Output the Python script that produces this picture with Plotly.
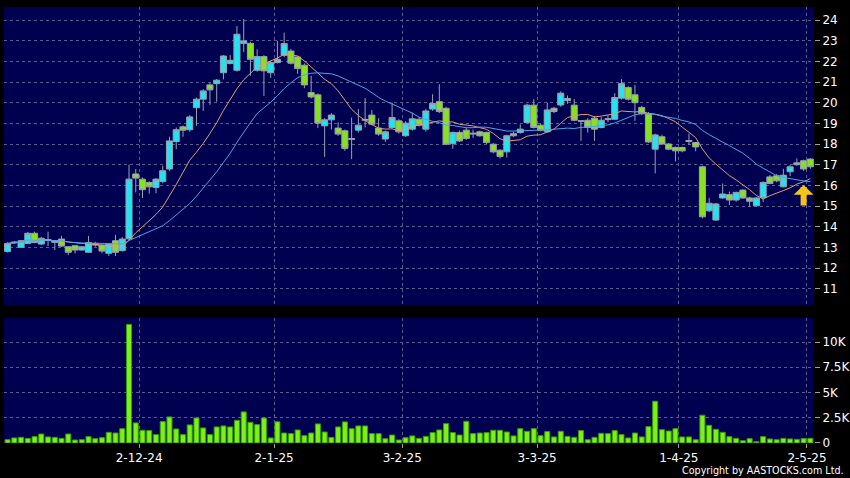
import plotly.graph_objects as go
import pandas as pd

# ---- data ----
tick_index = [20, 40, 59, 79, 100, 119]
tick_labels = ["2-12-24", "2-1-25", "3-2-25", "3-3-25", "1-4-25", "2-5-25"]

price_ticks = list(range(11, 25))
volume_ticks = [0, 2500, 5000, 7500, 10000]
volume_tick_labels = ["0", "2.5K", "5K", "7.5K", "10K"]

open_ = [12.80, 13.22, 13.00, 13.19, 13.68, 13.16, 13.38, 13.24, 13.40, 13.03,
         13.08, 12.87, 12.76, 13.19, 13.11, 12.71, 13.32, 12.84, 13.41, 16.55,
         16.30, 16.14, 15.90, 16.19, 16.79, 18.12, 18.83, 18.69, 19.76, 20.17,
         20.86, 20.92, 21.45, 21.90, 21.57, 22.87, 22.87, 21.57, 22.23, 21.45,
         21.94, 22.29, 22.50, 22.21, 21.81, 20.49, 20.38, 18.88, 19.17, 18.77,
         18.64, 18.22, 18.67, 19.15, 19.40, 18.77, 18.24, 18.80, 19.12, 18.40,
         18.72, 19.20, 18.72, 19.69, 20.05, 19.73, 18.02, 18.56, 18.67, 18.48,
         18.59, 18.56, 17.99, 17.70, 17.62, 18.40, 18.56, 19.04, 19.88, 18.91,
         18.59, 19.73, 19.89, 20.10, 19.88, 19.10, 19.15, 19.25, 18.80, 19.18,
         19.20, 20.22, 20.73, 20.38, 19.77, 19.47, 17.75, 18.35, 18.00, 17.83,
         17.83, 18.12, 18.07, 16.90, 14.77, 14.32, 15.39, 15.55, 15.29, 15.77,
         15.39, 15.01, 15.42, 16.41, 16.46, 15.93, 16.66, 17.00, 17.19, 17.27]
high = [13.25, 13.30, 13.36, 13.75, 13.76, 13.50, 13.76, 13.35, 13.56, 13.06,
        13.10, 13.06, 13.55, 13.27, 13.14, 13.18, 13.60, 13.50, 17.00, 16.79,
        16.38, 16.20, 16.35, 16.95, 18.35, 18.80, 18.90, 19.40, 20.25, 20.65,
        20.95, 21.15, 22.30, 22.30, 23.71, 24.05, 22.95, 22.58, 22.30, 22.00,
        22.99, 23.39, 22.60, 22.25, 21.90, 21.30, 20.45, 19.25, 19.50, 19.05,
        18.70, 19.28, 19.69, 20.23, 19.64, 19.25, 18.65, 20.00, 19.20, 19.10,
        19.52, 19.30, 19.70, 20.41, 20.89, 19.80, 18.60, 18.65, 18.80, 18.70,
        18.65, 18.60, 18.05, 17.75, 18.45, 18.60, 18.95, 19.95, 20.17, 18.98,
        20.00, 19.80, 20.55, 20.35, 20.17, 19.15, 19.25, 19.35, 19.30, 19.40,
        20.46, 21.14, 20.80, 20.86, 19.85, 19.55, 18.50, 18.45, 18.05, 17.88,
        17.88, 18.50, 18.10, 16.95, 15.40, 15.15, 16.09, 15.70, 15.70, 15.80,
        15.45, 15.42, 16.20, 16.50, 16.55, 16.80, 17.00, 17.30, 17.25, 17.32]
low = [12.75, 13.18, 12.98, 13.15, 13.20, 13.10, 13.06, 12.87, 13.02, 12.63,
       12.71, 12.84, 12.74, 13.03, 12.71, 12.58, 12.58, 12.80, 13.35, 15.66,
       15.39, 15.60, 15.62, 16.10, 16.70, 17.75, 18.35, 18.60, 18.88, 19.60,
       19.90, 20.05, 21.13, 21.85, 21.50, 22.45, 21.30, 21.50, 20.33, 21.20,
       21.90, 22.20, 21.85, 21.40, 20.70, 20.20, 18.77, 17.38, 18.70, 18.40,
       17.67, 17.27, 18.55, 18.80, 18.90, 18.40, 18.10, 18.75, 18.50, 18.35,
       18.65, 18.85, 18.60, 19.60, 19.50, 17.95, 17.77, 18.10, 18.20, 18.30,
       18.35, 18.00, 17.55, 17.30, 17.35, 18.35, 18.50, 19.00, 18.75, 18.62,
       18.55, 19.50, 19.80, 19.95, 19.10, 18.15, 18.55, 18.15, 18.75, 19.05,
       19.15, 20.15, 20.10, 19.12, 19.40, 18.05, 16.58, 17.95, 17.70, 17.16,
       17.60, 17.95, 17.65, 14.40, 14.70, 14.28, 15.35, 15.05, 15.20, 15.35,
       14.95, 14.98, 15.20, 16.05, 16.15, 15.90, 16.45, 16.95, 16.70, 16.80]
close = [13.19, 13.25, 13.32, 13.68, 13.23, 13.44, 13.33, 13.32, 13.06, 12.76,
         12.87, 13.03, 13.23, 13.11, 12.82, 13.16, 12.76, 13.40, 16.30, 16.35,
         15.79, 15.93, 16.30, 16.71, 18.15, 18.69, 18.67, 19.31, 20.17, 20.57,
         20.62, 21.09, 22.26, 22.05, 23.31, 22.99, 22.10, 22.23, 21.54, 21.94,
         22.10, 22.86, 21.91, 21.65, 20.86, 20.28, 19.01, 19.17, 19.40, 18.48,
         17.78, 18.26, 18.91, 19.19, 18.96, 18.48, 18.59, 19.28, 18.59, 19.01,
         19.22, 18.91, 19.60, 19.96, 19.57, 17.99, 18.56, 18.15, 18.27, 18.52,
         18.40, 18.07, 17.62, 17.40, 18.40, 18.50, 18.72, 19.88, 18.80, 18.67,
         19.65, 19.57, 20.46, 20.20, 19.15, 19.12, 18.80, 18.72, 19.15, 19.22,
         20.25, 20.92, 20.17, 20.00, 19.47, 18.10, 18.44, 18.00, 17.75, 17.67,
         17.67, 18.17, 17.86, 14.48, 15.13, 15.10, 15.58, 15.29, 15.66, 15.39,
         15.23, 15.39, 16.14, 16.09, 16.22, 16.49, 16.90, 17.09, 16.79, 16.90]
volume = [330, 500, 560, 460, 630, 890, 600, 560, 460, 890,
          300, 330, 630, 430, 530, 1060, 990, 1420, 11750, 1990,
          1260, 1230, 830, 2120, 2580, 1390, 830, 1790, 2480, 1490,
          830, 1590, 1690, 1590, 2250, 3080, 2050, 1820, 2480, 500,
          2100, 990, 930, 1290, 730, 990, 1890, 1090, 560, 1590,
          2090, 1420, 1690, 1690, 930, 930, 430, 790, 300, 530,
          700, 460, 660, 1030, 1290, 1920, 1030, 790, 2150, 930,
          990, 1030, 1260, 1260, 1090, 700, 1420, 1160, 1420, 730,
          1130, 600, 1160, 660, 560, 1230, 330, 560, 960, 930,
          1230, 830, 500, 990, 600, 1620, 4140, 1320, 1190, 1420,
          600, 600, 330, 2750, 1750, 1360, 1060, 630, 460, 230,
          430, 130, 630, 400, 330, 460, 400, 360, 430, 460]

arrow_index = 118
arrow_price = 16.02

# ---- derived ----
x = list(range(len(close)))
ma_fast = pd.Series(close).rolling(10, min_periods=1).mean()
ma_slow = pd.Series(close).rolling(20, min_periods=1).mean()
tick_pos = [i - 0.5 for i in tick_index]

NAVY = "#000050"
GRID = "#5c5c8c"
FONT = dict(family="DejaVu Sans", size=12, color="#FFFFFF")

fig = go.Figure()
fig.add_trace(go.Candlestick(
    x=x, open=open_, high=high, low=low, close=close,
    xaxis="x2", yaxis="y2", whiskerwidth=0,
    increasing=dict(line=dict(color="#9AA2AE", width=1), fillcolor="#22E3F0"),
    decreasing=dict(line=dict(color="#9AA2AE", width=1), fillcolor="#86E21E"),
    showlegend=False, hoverinfo="skip"))
fig.add_trace(go.Scatter(x=x, y=ma_fast, mode="lines", xaxis="x2", yaxis="y2",
                         line=dict(color="#E59B73", width=1), showlegend=False,
                         hoverinfo="skip"))
fig.add_trace(go.Scatter(x=x, y=ma_slow, mode="lines", xaxis="x2", yaxis="y2",
                         line=dict(color="#4AA6E6", width=1), showlegend=False,
                         hoverinfo="skip"))
fig.add_trace(go.Bar(x=x, y=volume, xaxis="x", yaxis="y",
                     marker=dict(color="#7CF01A", line=dict(color="#3A9A00", width=1)),
                     showlegend=False, hoverinfo="skip"))

xr = [-0.53, 119.54]
common_x = dict(range=xr, tickmode="array", tickvals=tick_pos, showgrid=True,
                gridcolor=GRID, griddash="3px,3px", gridwidth=1, zeroline=False,
                showline=False, fixedrange=True)

fig.update_layout(
    width=850, height=478,
    margin=dict(l=4, r=36, t=7, b=35, autoexpand=False),
    paper_bgcolor="#000000", plot_bgcolor=NAVY,
    font=FONT, bargap=0.25, boxgap=0.1, boxgroupgap=0.0, showlegend=False,
    xaxis=dict(**common_x, anchor="y", domain=[0, 1], ticktext=tick_labels,
               ticks="outside", ticklen=4, tickcolor="#A0A0A0", tickfont=FONT,
               rangeslider=dict(visible=False)),
    xaxis2=dict(**common_x, anchor="y2", domain=[0, 1], matches="x",
                showticklabels=False, ticks="", rangeslider=dict(visible=False)),
    yaxis=dict(domain=[0, 0.2867], range=[0, 12380], side="right",
               tickmode="array", tickvals=volume_ticks, ticktext=volume_tick_labels,
               ticks="outside", ticklen=5, tickcolor="#A0A0A0", tickfont=FONT,
               showgrid=True, gridcolor=GRID, griddash="3px,3px", zeroline=False,
               fixedrange=True),
    yaxis2=dict(domain=[0.3165, 1], range=[10.21, 24.63], side="right",
                tickmode="array", tickvals=price_ticks,
                ticks="outside", ticklen=5, tickcolor="#A0A0A0", tickfont=FONT,
                showgrid=True, gridcolor=GRID, griddash="3px,3px", zeroline=False,
                fixedrange=True),
    annotations=[
        dict(xref="x2", yref="y2", x=arrow_index, y=arrow_price, text="",
             showarrow=True, ax=0, ay=22, axref="pixel", ayref="pixel",
             arrowhead=1, arrowsize=0.55, arrowwidth=6, arrowcolor="#F2C31A",
             standoff=0),
        dict(xref="paper", yref="paper", x=1.039, y=-0.062, xanchor="right",
             yanchor="middle", showarrow=False,
             text="Copyright by AASTOCKS.com Ltd.",
             font=dict(family="DejaVu Sans", size=9.6, color="#FFFFFF")),
    ],
)

fig.write_html("out.html", config={"displayModeBar": False, "staticPlot": True},
               post_script="document.body.style.margin='0';document.body.style.overflow='hidden';")
